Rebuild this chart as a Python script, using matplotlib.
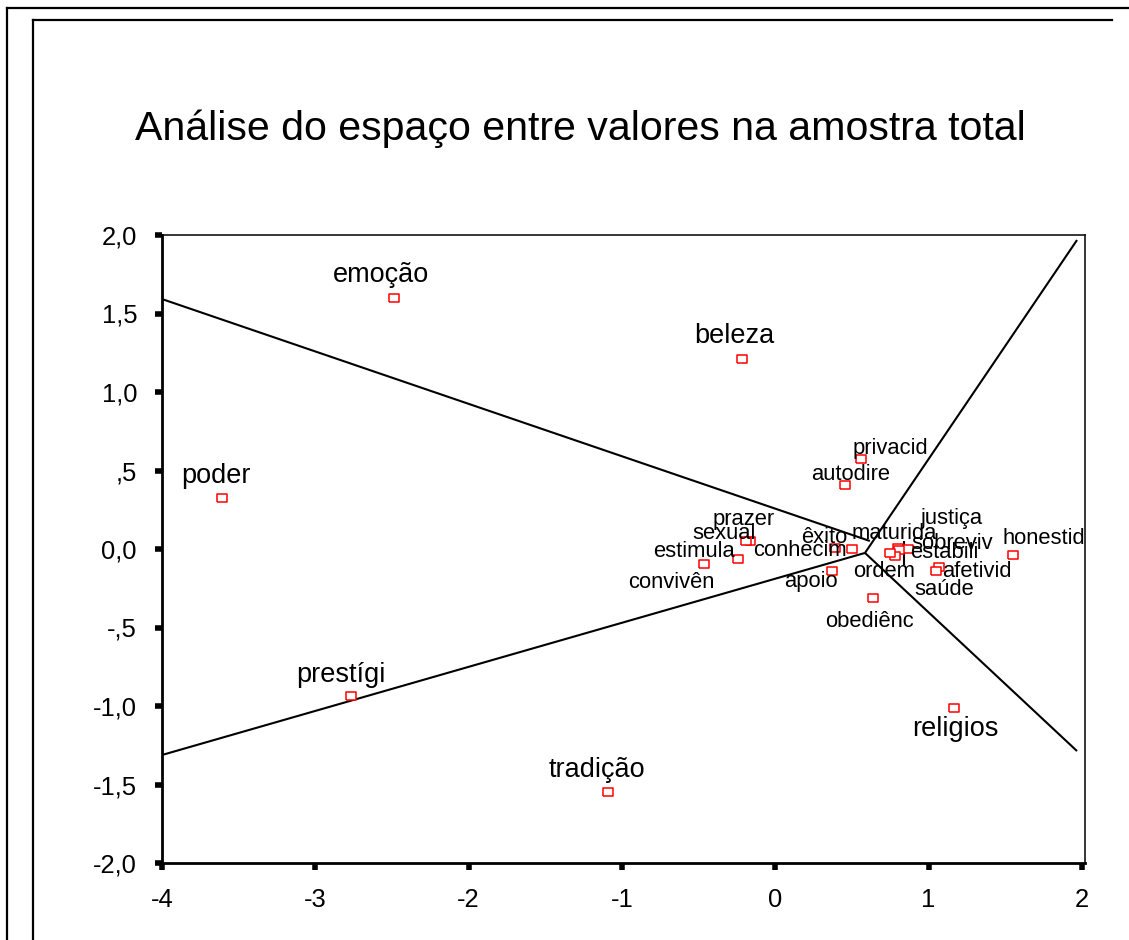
import matplotlib
matplotlib.use("Agg")
import matplotlib.pyplot as plt
from matplotlib.lines import Line2D

plt.rcParams['font.family'] = ['Liberation Sans', 'DejaVu Sans']

# ---------------- data ----------------
labels = ["emoção", "beleza", "poder", "privacid", "autodire", "prestígi",
          "tradição", "religios", "honestid", "obediênc", "apoio", "êxito",
          "conhecim", "prazer", "sexual", "estimula", "convivên", "maturida",
          "justiça", "sobreviv", "estabili", "ordem", "afetivid", "saúde"]
dim1 = [-2.49, -0.22, -3.61, 0.56, 0.455, -2.77,
        -1.09, 1.165, 1.55, 0.637, 0.37, 0.389,
        0.50, -0.165, -0.191, -0.243, -0.465, 0.80,
        0.865, 0.806, 0.78, 0.747, 1.067, 1.048]
dim2 = [1.60, 1.21, 0.325, 0.573, 0.408, -0.936,
        -1.548, -1.012, -0.038, -0.312, -0.14, 0.006,
        0.0, 0.051, 0.051, -0.064, -0.096, 0.006,
        0.0, -0.006, -0.045, -0.025, -0.115, -0.14]

# region partition lines (from the chart)
region_x = [[-4.0, 0.617], [-4.0, 0.585], [1.968, 0.585], [0.585, 1.968], [0.839, 0.839]]
region_y = [[1.592, 0.051], [-1.312, -0.025], [1.968, -0.025], [-0.025, -1.287], [0.051, -0.102]]

xticks = [-4, -3, -2, -1, 0, 1, 2]
xticklabels = ["-4", "-3", "-2", "-1", "0", "1", "2"]
yticks = [2.0, 1.5, 1.0, 0.5, 0.0, -0.5, -1.0, -1.5, -2.0]
yticklabels = ["2,0", "1,5", "1,0", ",5", "0,0", "-,5", "-1,0", "-1,5", "-2,0"]

title = "Análise do espaço entre valores na amostra total"

# ---------------- layout / style ----------------
big = {"emoção", "beleza", "poder", "prestígi", "tradição", "religios"}
# label offsets in pixels (dx right, dy up) relative to the point
label_offsets = {
    "emoção": (-13, 16), "beleza": (-7, 16), "poder": (-6, 15),
    "privacid": (29, 5), "autodire": (6, 5), "prestígi": (-10, 14),
    "tradição": (-11, 15), "religios": (1, -28), "honestid": (31, 11),
    "obediênc": (-3, -29), "apoio": (-21, -16), "êxito": (-11, 5),
    "conhecim": (-52, -7), "prazer": (-6, 16), "sexual": (-22, 2),
    "estimula": (-44, 2), "convivên": (-33, -24), "maturida": (-4, 9),
    "justiça": (44, 25), "sobreviv": (53, 1), "estabili": (49, -2),
    "ordem": (-6, -24), "afetivid": (38, -10), "saúde": (8, -24),
}

W, H = 1129, 940
fig = plt.figure(figsize=(W / 100, H / 100), dpi=100)

# outer frames
def fig_line(xs, ys, lw=1.6, color="black"):
    fig.add_artist(Line2D([x / W for x in xs], [1 - y / H for y in ys],
                          transform=fig.transFigure, color=color, lw=lw))

fig_line([7, W], [8, 8])
fig_line([7, 7], [8, H])
fig_line([33, 1112], [20, 20])
fig_line([33, 33], [20, H])

fig.text(580 / W, 1 - 140 / H, title, ha="center", va="baseline", fontsize=29.6)

left, right, top, bottom = 162, 1085, 235, 863
ax = fig.add_axes([left / W, 1 - bottom / H, (right - left) / W, (bottom - top) / H])
ax.set_xlim(-4, 2.02)
ax.set_ylim(-2, 2)

for xs, ys in zip(region_x, region_y):
    ax.plot(xs, ys, color="black", lw=1.5, solid_capstyle="butt")

rect = [(-1.3, -1), (1.3, -1), (1.3, 1), (-1.3, 1), (-1.3, -1)]
ax.plot(dim1, dim2, linestyle="none", marker=rect, markersize=7,
        markerfacecolor="white", markeredgecolor="red", markeredgewidth=1.1)

for lab, x, y in zip(labels, dim1, dim2):
    dx, dy = label_offsets[lab]
    ax.annotate(lab, (x, y), xytext=(dx, dy), textcoords="offset pixels",
                ha="center", va="baseline",
                fontsize=19.5 if lab in big else 15.8, color="black")

ax.set_xticks(xticks)
ax.set_xticklabels(xticklabels)
ax.set_yticks(yticks)
ax.set_yticklabels(yticklabels)
ax.tick_params(direction="out", length=5, width=4, labelsize=18.4, pad=13, color="black")
for side in ["left", "bottom"]:
    ax.spines[side].set_linewidth(2.0)
for side in ["top", "right"]:
    ax.spines[side].set_linewidth(1.1)

fig.savefig("out.png", dpi=100)
